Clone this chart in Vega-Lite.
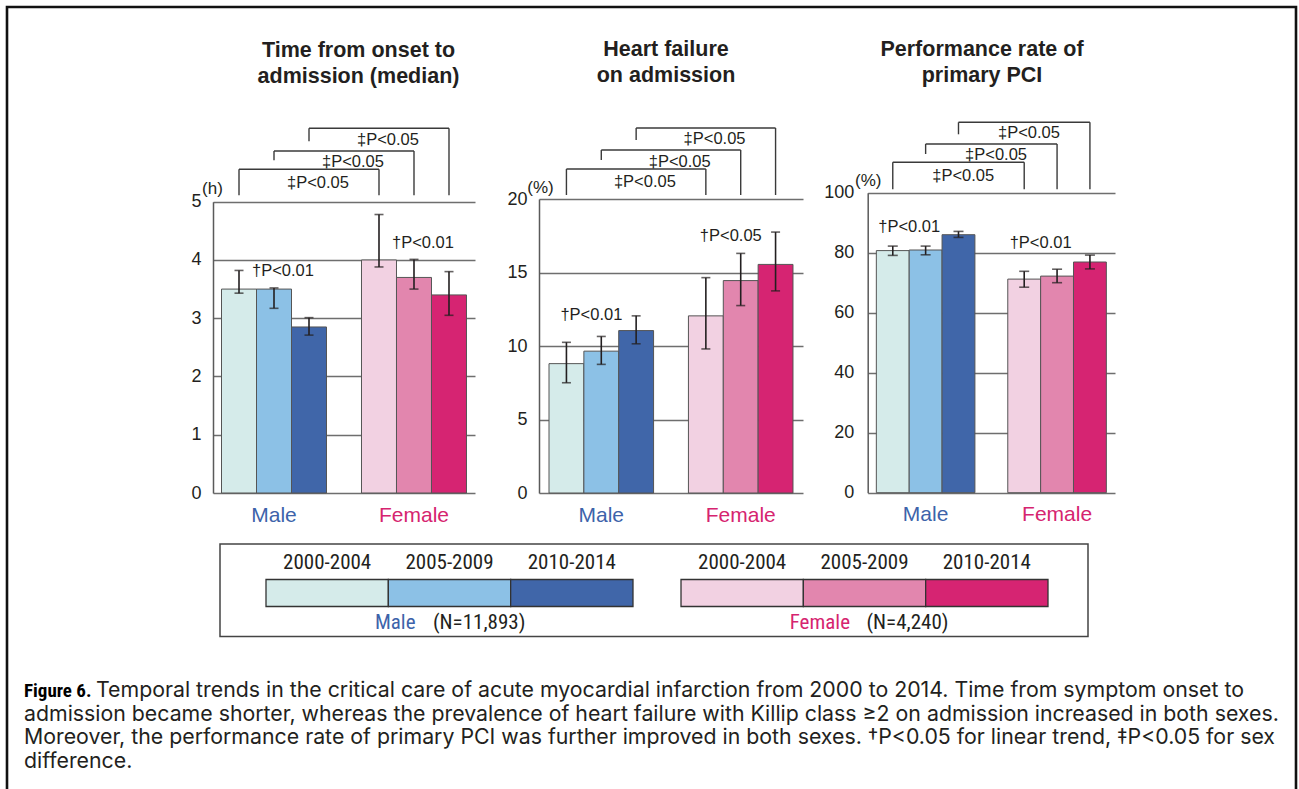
{
"$schema": "https://vega.github.io/schema/vega-lite/v6.json",
"width": 1289, "height": 782,
"autosize": {"type": "none"},
"padding": {"left": 7, "top": 7, "right": 3, "bottom": 0},
"background": "#ffffff",
"config": {
  "view": {"stroke": null},
  "font": "Liberation Sans",
  "text": {"font": "Liberation Sans", "color": "#231f20"},
  "axis": {"labelFont": "Liberation Sans", "titleFont": "Liberation Sans"}
},
"datasets": {
  "bars": [
    {"metric": "onset", "sex": "Male", "period": "2000-2004", "value": 3.5, "lo": 3.43, "hi": 3.82},
    {"metric": "onset", "sex": "Male", "period": "2005-2009", "value": 3.5, "lo": 3.17, "hi": 3.52},
    {"metric": "onset", "sex": "Male", "period": "2010-2014", "value": 2.85, "lo": 2.71, "hi": 3.01},
    {"metric": "onset", "sex": "Female", "period": "2000-2004", "value": 4.0, "lo": 3.88, "hi": 4.78},
    {"metric": "onset", "sex": "Female", "period": "2005-2009", "value": 3.7, "lo": 3.5, "hi": 4.01},
    {"metric": "onset", "sex": "Female", "period": "2010-2014", "value": 3.4, "lo": 3.05, "hi": 3.8},
    {"metric": "hf", "sex": "Male", "period": "2000-2004", "value": 8.8, "lo": 7.5, "hi": 10.25},
    {"metric": "hf", "sex": "Male", "period": "2005-2009", "value": 9.65, "lo": 8.75, "hi": 10.65},
    {"metric": "hf", "sex": "Male", "period": "2010-2014", "value": 11.05, "lo": 10.15, "hi": 12.05},
    {"metric": "hf", "sex": "Female", "period": "2000-2004", "value": 12.05, "lo": 9.8, "hi": 14.65},
    {"metric": "hf", "sex": "Female", "period": "2005-2009", "value": 14.45, "lo": 12.75, "hi": 16.3},
    {"metric": "hf", "sex": "Female", "period": "2010-2014", "value": 15.55, "lo": 13.75, "hi": 17.75},
    {"metric": "pci", "sex": "Male", "period": "2000-2004", "value": 80.7, "lo": 79.1, "hi": 82.2},
    {"metric": "pci", "sex": "Male", "period": "2005-2009", "value": 80.9, "lo": 79.3, "hi": 82.2},
    {"metric": "pci", "sex": "Male", "period": "2010-2014", "value": 86.0, "lo": 85.1, "hi": 87.1},
    {"metric": "pci", "sex": "Female", "period": "2000-2004", "value": 71.2, "lo": 68.5, "hi": 73.8},
    {"metric": "pci", "sex": "Female", "period": "2005-2009", "value": 72.2, "lo": 70.0, "hi": 74.5},
    {"metric": "pci", "sex": "Female", "period": "2010-2014", "value": 76.9, "lo": 74.6, "hi": 79.2}
  ],
  "trend": [
    {"metric": "onset", "at": "Male 2010-2014", "level": 3.81, "label": "†P<0.01"},
    {"metric": "onset", "at": "Female 2010-2014", "level": 4.29, "label": "†P<0.01"},
    {"metric": "hf", "at": "Male 2005-2009", "level": 12.11, "label": "†P<0.01"},
    {"metric": "hf", "at": "Female 2005-2009", "level": 17.5, "label": "†P<0.05"},
    {"metric": "pci", "at": "Male 2005-2009", "level": 88.5, "label": "†P<0.01"},
    {"metric": "pci", "at": "Female 2005-2009", "level": 83.2, "label": "†P<0.01"}
  ],
  "brackets": [
    {"metric": "onset", "from": "Male 2000-2004", "to": "Female 2000-2004", "level": 5.557, "legFrom": 5.111, "legTo": 5.111, "labelY": 5.317, "label": "‡P<0.05"},
    {"metric": "onset", "from": "Male 2005-2009", "to": "Female 2005-2009", "level": 5.871, "legFrom": 5.712, "legTo": 5.111, "labelY": 5.677, "label": "‡P<0.05"},
    {"metric": "onset", "from": "Male 2010-2014", "to": "Female 2010-2014", "level": 6.261, "legFrom": 6.038, "legTo": 5.111, "labelY": 6.055, "label": "‡P<0.05"},
    {"metric": "hf", "from": "Male 2000-2004", "to": "Female 2000-2004", "level": 22.04, "legFrom": 20.27, "legTo": 20.27, "labelY": 21.16, "label": "‡P<0.05"},
    {"metric": "hf", "from": "Male 2005-2009", "to": "Female 2005-2009", "level": 23.33, "legFrom": 22.65, "legTo": 20.27, "labelY": 22.52, "label": "‡P<0.05"},
    {"metric": "hf", "from": "Male 2010-2014", "to": "Female 2010-2014", "level": 24.83, "legFrom": 24.01, "legTo": 20.27, "labelY": 24.08, "label": "‡P<0.05"},
    {"metric": "pci", "from": "Male 2000-2004", "to": "Female 2000-2004", "level": 110.13, "legFrom": 101.13, "legTo": 101.13, "labelY": 105.67, "label": "‡P<0.05"},
    {"metric": "pci", "from": "Male 2005-2009", "to": "Female 2005-2009", "level": 116.23, "legFrom": 112.9, "legTo": 101.13, "labelY": 112.57, "label": "‡P<0.05"},
    {"metric": "pci", "from": "Male 2010-2014", "to": "Female 2010-2014", "level": 123.47, "legFrom": 119.47, "legTo": 101.13, "labelY": 119.9, "label": "‡P<0.05"}
  ],
  "groups": [
    {"sex": "Male", "n": "(N=11,893)"},
    {"sex": "Female", "n": "(N=4,240)"}
  ],
  "caption": [
    {"line": 1, "part": "head", "text": "Figure 6."},
    {"line": 1, "part": "first", "text": "Temporal trends in the critical care of acute myocardial infarction from 2000 to 2014. Time from symptom onset to"},
    {"line": 2, "part": "body", "text": "admission became shorter, whereas the prevalence of heart failure with Killip class ≥2 on admission increased in both sexes."},
    {"line": 3, "part": "body", "text": "Moreover, the performance rate of primary PCI was further improved in both sexes. †P<0.05 for linear trend, ‡P<0.05 for sex"},
    {"line": 4, "part": "body", "text": "difference."}
  ]
},
"layer": [
  {
    "data": {"values": [{"frame": "figure"}]},
    "mark": {"type": "rect", "fill": null, "fillOpacity": 0, "stroke": "#111111", "strokeWidth": 2.6},
    "encoding": {
      "x": {"field": "frame", "type": "nominal", "axis": null, "scale": {"domain": ["figure"], "range": [0, 1289], "paddingInner": 0, "paddingOuter": 0}},
      "y": {"field": "frame", "type": "nominal", "axis": null, "scale": {"domain": ["figure"], "range": [0, 820], "paddingInner": 0, "paddingOuter": 0}}
    }
  },
  {
    "data": {"name": "bars"},
    "transform": [{"filter": "datum.metric === 'onset'"}, {"calculate": "datum.sex + ' ' + datum.period", "as": "key"}],
    "layer": [
      {
        "mark": {"type": "bar", "stroke": "#555555", "strokeWidth": 1},
        "encoding": {
          "x": {"field": "key", "type": "nominal",
                "scale": {"domain": ["Male 2000-2004","Male 2005-2009","Male 2010-2014","gap","Female 2000-2004","Female 2005-2009","Female 2010-2014"], "range": [206, 468], "paddingInner": 0, "paddingOuter": 0.243},
                "axis": {"orient": "bottom", "offset": -296, "domain": false, "ticks": false, "grid": false, "labelAngle": 0,
                         "labelExpr": "datum.value === 'Male 2005-2009' ? 'Male' : (datum.value === 'Female 2005-2009' ? 'Female' : '')",
                         "labelFontSize": 21, "labelPadding": 11,
                         "labelColor": {"condition": {"test": "datum.value === 'Male 2005-2009'", "value": "#3d63aa"}, "value": "#d6246f"},
                         "labelOverlap": false, "labelBound": false, "labelFlush": false,
                         "title": ["Time from onset to", "admission (median)"], "titleFontSize": 21.5, "titleFontWeight": "bold", "titleColor": "#231f20",
                         "titleX": 351, "titleY": -437, "titleAlign": "center", "titleBaseline": "alphabetic", "titleLineHeight": 26}},
          "y": {"field": "value", "type": "quantitative",
                "scale": {"domain": [0, 5], "range": [486, 194.7], "nice": false},
                "axis": {"orient": "left", "offset": -206, "values": [0,1,2,3,4,5], "format": "d", "grid": true, "gridColor": "#6e6e6e", "gridWidth": 1.3,
                         "domainColor": "#5a5a5a", "domainWidth": 1.5, "ticks": false, "labelPadding": 12, "labelFontSize": 18, "labelColor": "#231f20",
                         "labelFlush": false, "labelOverlap": false,
                         "title": "(h)", "titleAngle": 0, "titleAlign": "center", "titleBaseline": "middle", "titleX": -1, "titleY": 181,
                         "titleFontSize": 17, "titleFontWeight": "normal", "titleColor": "#231f20"}},
          "color": {"field": "key", "type": "nominal", "legend": null,
                    "scale": {"domain": ["Male 2000-2004","Male 2005-2009","Male 2010-2014","Female 2000-2004","Female 2005-2009","Female 2010-2014"], "range": ["#d5ebea","#8cc1e6","#4066a9","#f2d1e2","#e286ae","#d62472"]}}
        }
      },
      {
        "mark": {"type": "rule", "color": "#231f20", "strokeWidth": 1.6},
        "encoding": {
          "x": {"field": "key", "type": "nominal", "scale": {"domain": ["Male 2000-2004","Male 2005-2009","Male 2010-2014","gap","Female 2000-2004","Female 2005-2009","Female 2010-2014"], "range": [206, 468], "paddingInner": 0, "paddingOuter": 0.243}},
          "y": {"field": "lo", "type": "quantitative", "scale": {"domain": [0, 5], "range": [486, 194.7], "nice": false}},
          "y2": {"field": "hi"}
        }
      },
      {
        "transform": [{"fold": ["lo", "hi"], "as": ["end", "v"]}],
        "mark": {"type": "tick", "color": "#231f20", "size": 9, "thickness": 1.6},
        "encoding": {
          "x": {"field": "key", "type": "nominal", "scale": {"domain": ["Male 2000-2004","Male 2005-2009","Male 2010-2014","gap","Female 2000-2004","Female 2005-2009","Female 2010-2014"], "range": [206, 468], "paddingInner": 0, "paddingOuter": 0.243}},
          "y": {"field": "v", "type": "quantitative", "scale": {"domain": [0, 5], "range": [486, 194.7], "nice": false}}
        }
      },
      {
        "data": {"name": "trend"},
        "transform": [{"filter": "datum.metric === 'onset'"}],
        "mark": {"type": "text", "fontSize": 16.5, "dx": -8.5, "align": "center", "baseline": "middle"},
        "encoding": {
          "x": {"field": "at", "type": "nominal", "bandPosition": 0, "scale": {"domain": ["Male 2000-2004","Male 2005-2009","Male 2010-2014","gap","Female 2000-2004","Female 2005-2009","Female 2010-2014"], "range": [206, 468], "paddingInner": 0, "paddingOuter": 0.243}},
          "y": {"field": "level", "type": "quantitative", "scale": {"domain": [0, 5], "range": [486, 194.7], "nice": false}},
          "text": {"field": "label"}
        }
      },
      {
        "data": {"name": "brackets"},
        "transform": [{"filter": "datum.metric === 'onset'"}],
        "layer": [
          {"mark": {"type": "rule", "color": "#3a3a3a", "strokeWidth": 1.4},
           "encoding": {
             "x": {"field": "from", "type": "nominal", "scale": {"domain": ["Male 2000-2004","Male 2005-2009","Male 2010-2014","gap","Female 2000-2004","Female 2005-2009","Female 2010-2014"], "range": [206, 468], "paddingInner": 0, "paddingOuter": 0.243}},
             "x2": {"field": "to"},
             "y": {"field": "level", "type": "quantitative", "scale": {"domain": [0, 5], "range": [486, 194.7], "nice": false}}}},
          {"mark": {"type": "rule", "color": "#3a3a3a", "strokeWidth": 1.4},
           "encoding": {
             "x": {"field": "from", "type": "nominal", "scale": {"domain": ["Male 2000-2004","Male 2005-2009","Male 2010-2014","gap","Female 2000-2004","Female 2005-2009","Female 2010-2014"], "range": [206, 468], "paddingInner": 0, "paddingOuter": 0.243}},
             "y": {"field": "level", "type": "quantitative", "scale": {"domain": [0, 5], "range": [486, 194.7], "nice": false}},
             "y2": {"field": "legFrom"}}},
          {"mark": {"type": "rule", "color": "#3a3a3a", "strokeWidth": 1.4},
           "encoding": {
             "x": {"field": "to", "type": "nominal", "scale": {"domain": ["Male 2000-2004","Male 2005-2009","Male 2010-2014","gap","Female 2000-2004","Female 2005-2009","Female 2010-2014"], "range": [206, 468], "paddingInner": 0, "paddingOuter": 0.243}},
             "y": {"field": "level", "type": "quantitative", "scale": {"domain": [0, 5], "range": [486, 194.7], "nice": false}},
             "y2": {"field": "legTo"}}},
          {"mark": {"type": "text", "fontSize": 16.5, "dx": -61, "align": "center", "baseline": "middle"},
           "encoding": {
             "x": {"field": "to", "type": "nominal", "scale": {"domain": ["Male 2000-2004","Male 2005-2009","Male 2010-2014","gap","Female 2000-2004","Female 2005-2009","Female 2010-2014"], "range": [206, 468], "paddingInner": 0, "paddingOuter": 0.243}},
             "y": {"field": "labelY", "type": "quantitative", "scale": {"domain": [0, 5], "range": [486, 194.7], "nice": false}},
             "text": {"field": "label"}}}
        ]
      }
    ]
  },
  {
    "data": {"name": "bars"},
    "transform": [{"filter": "datum.metric === 'hf'"}, {"calculate": "datum.sex + ' ' + datum.period", "as": "key"}],
    "layer": [
      {
        "mark": {"type": "bar", "stroke": "#555555", "strokeWidth": 1},
        "encoding": {
          "x": {"field": "key", "type": "nominal",
                "scale": {"domain": ["Male 2000-2004","Male 2005-2009","Male 2010-2014","gap","Female 2000-2004","Female 2005-2009","Female 2010-2014"], "range": [532, 796], "paddingInner": 0, "paddingOuter": 0.287},
                "axis": {"orient": "bottom", "offset": -296, "domain": false, "ticks": false, "grid": false, "labelAngle": 0,
                         "labelExpr": "datum.value === 'Male 2005-2009' ? 'Male' : (datum.value === 'Female 2005-2009' ? 'Female' : '')",
                         "labelFontSize": 21, "labelPadding": 11,
                         "labelColor": {"condition": {"test": "datum.value === 'Male 2005-2009'", "value": "#3d63aa"}, "value": "#d6246f"},
                         "labelOverlap": false, "labelBound": false, "labelFlush": false,
                         "title": ["Heart failure", "on admission"], "titleFontSize": 21.5, "titleFontWeight": "bold", "titleColor": "#231f20",
                         "titleX": 658.5, "titleY": -437.5, "titleAlign": "center", "titleBaseline": "alphabetic", "titleLineHeight": 26}},
          "y": {"field": "value", "type": "quantitative",
                "scale": {"domain": [0, 20], "range": [486, 192], "nice": false},
                "axis": {"orient": "left", "offset": -532, "values": [0,5,10,15,20], "format": "d", "grid": true, "gridColor": "#6e6e6e", "gridWidth": 1.3,
                         "domainColor": "#5a5a5a", "domainWidth": 1.5, "ticks": false, "labelPadding": 12, "labelFontSize": 18, "labelColor": "#231f20",
                         "labelFlush": false, "labelOverlap": false,
                         "title": "(%)", "titleAngle": 0, "titleAlign": "center", "titleBaseline": "middle", "titleX": 1, "titleY": 180,
                         "titleFontSize": 17, "titleFontWeight": "normal", "titleColor": "#231f20"}},
          "color": {"field": "key", "type": "nominal", "legend": null,
                    "scale": {"domain": ["Male 2000-2004","Male 2005-2009","Male 2010-2014","Female 2000-2004","Female 2005-2009","Female 2010-2014"], "range": ["#d5ebea","#8cc1e6","#4066a9","#f2d1e2","#e286ae","#d62472"]}}
        }
      },
      {
        "mark": {"type": "rule", "color": "#231f20", "strokeWidth": 1.6},
        "encoding": {
          "x": {"field": "key", "type": "nominal", "scale": {"domain": ["Male 2000-2004","Male 2005-2009","Male 2010-2014","gap","Female 2000-2004","Female 2005-2009","Female 2010-2014"], "range": [532, 796], "paddingInner": 0, "paddingOuter": 0.287}},
          "y": {"field": "lo", "type": "quantitative", "scale": {"domain": [0, 20], "range": [486, 192], "nice": false}},
          "y2": {"field": "hi"}
        }
      },
      {
        "transform": [{"fold": ["lo", "hi"], "as": ["end", "v"]}],
        "mark": {"type": "tick", "color": "#231f20", "size": 9, "thickness": 1.6},
        "encoding": {
          "x": {"field": "key", "type": "nominal", "scale": {"domain": ["Male 2000-2004","Male 2005-2009","Male 2010-2014","gap","Female 2000-2004","Female 2005-2009","Female 2010-2014"], "range": [532, 796], "paddingInner": 0, "paddingOuter": 0.287}},
          "y": {"field": "v", "type": "quantitative", "scale": {"domain": [0, 20], "range": [486, 192], "nice": false}}
        }
      },
      {
        "data": {"name": "trend"},
        "transform": [{"filter": "datum.metric === 'hf'"}],
        "mark": {"type": "text", "fontSize": 16.5, "dx": 7.5, "align": "center", "baseline": "middle"},
        "encoding": {
          "x": {"field": "at", "type": "nominal", "bandPosition": 0, "scale": {"domain": ["Male 2000-2004","Male 2005-2009","Male 2010-2014","gap","Female 2000-2004","Female 2005-2009","Female 2010-2014"], "range": [532, 796], "paddingInner": 0, "paddingOuter": 0.287}},
          "y": {"field": "level", "type": "quantitative", "scale": {"domain": [0, 20], "range": [486, 192], "nice": false}},
          "text": {"field": "label"}
        }
      },
      {
        "data": {"name": "brackets"},
        "transform": [{"filter": "datum.metric === 'hf'"}],
        "layer": [
          {"mark": {"type": "rule", "color": "#3a3a3a", "strokeWidth": 1.4},
           "encoding": {
             "x": {"field": "from", "type": "nominal", "scale": {"domain": ["Male 2000-2004","Male 2005-2009","Male 2010-2014","gap","Female 2000-2004","Female 2005-2009","Female 2010-2014"], "range": [532, 796], "paddingInner": 0, "paddingOuter": 0.287}},
             "x2": {"field": "to"},
             "y": {"field": "level", "type": "quantitative", "scale": {"domain": [0, 20], "range": [486, 192], "nice": false}}}},
          {"mark": {"type": "rule", "color": "#3a3a3a", "strokeWidth": 1.4},
           "encoding": {
             "x": {"field": "from", "type": "nominal", "scale": {"domain": ["Male 2000-2004","Male 2005-2009","Male 2010-2014","gap","Female 2000-2004","Female 2005-2009","Female 2010-2014"], "range": [532, 796], "paddingInner": 0, "paddingOuter": 0.287}},
             "y": {"field": "level", "type": "quantitative", "scale": {"domain": [0, 20], "range": [486, 192], "nice": false}},
             "y2": {"field": "legFrom"}}},
          {"mark": {"type": "rule", "color": "#3a3a3a", "strokeWidth": 1.4},
           "encoding": {
             "x": {"field": "to", "type": "nominal", "scale": {"domain": ["Male 2000-2004","Male 2005-2009","Male 2010-2014","gap","Female 2000-2004","Female 2005-2009","Female 2010-2014"], "range": [532, 796], "paddingInner": 0, "paddingOuter": 0.287}},
             "y": {"field": "level", "type": "quantitative", "scale": {"domain": [0, 20], "range": [486, 192], "nice": false}},
             "y2": {"field": "legTo"}}},
          {"mark": {"type": "text", "fontSize": 16.5, "dx": -61, "align": "center", "baseline": "middle"},
           "encoding": {
             "x": {"field": "to", "type": "nominal", "scale": {"domain": ["Male 2000-2004","Male 2005-2009","Male 2010-2014","gap","Female 2000-2004","Female 2005-2009","Female 2010-2014"], "range": [532, 796], "paddingInner": 0, "paddingOuter": 0.287}},
             "y": {"field": "labelY", "type": "quantitative", "scale": {"domain": [0, 20], "range": [486, 192], "nice": false}},
             "text": {"field": "label"}}}
        ]
      }
    ]
  },
  {
    "data": {"name": "bars"},
    "transform": [{"filter": "datum.metric === 'pci'"}, {"calculate": "datum.sex + ' ' + datum.period", "as": "key"}],
    "layer": [
      {
        "mark": {"type": "bar", "stroke": "#555555", "strokeWidth": 1},
        "encoding": {
          "x": {"field": "key", "type": "nominal",
                "scale": {"domain": ["Male 2000-2004","Male 2005-2009","Male 2010-2014","gap","Female 2000-2004","Female 2005-2009","Female 2010-2014"], "range": [860.7, 1108], "paddingInner": 0, "paddingOuter": 0.263},
                "axis": {"orient": "bottom", "offset": -296.3, "domain": false, "ticks": false, "grid": false, "labelAngle": 0,
                         "labelExpr": "datum.value === 'Male 2005-2009' ? 'Male' : (datum.value === 'Female 2005-2009' ? 'Female' : '')",
                         "labelFontSize": 21, "labelPadding": 11,
                         "labelColor": {"condition": {"test": "datum.value === 'Male 2005-2009'", "value": "#3d63aa"}, "value": "#d6246f"},
                         "labelOverlap": false, "labelBound": false, "labelFlush": false,
                         "title": ["Performance rate of", "primary PCI"], "titleFontSize": 21.5, "titleFontWeight": "bold", "titleColor": "#231f20",
                         "titleX": 974.5, "titleY": -437.2, "titleAlign": "center", "titleBaseline": "alphabetic", "titleLineHeight": 26}},
          "y": {"field": "value", "type": "quantitative",
                "scale": {"domain": [0, 100], "range": [485.7, 185.7], "nice": false},
                "axis": {"orient": "left", "offset": -860.7, "values": [0,20,40,60,80,100], "format": "d", "grid": true, "gridColor": "#6e6e6e", "gridWidth": 1.3,
                         "domainColor": "#5a5a5a", "domainWidth": 1.5, "ticks": false, "labelPadding": 14, "labelFontSize": 18, "labelColor": "#231f20",
                         "labelFlush": false, "labelOverlap": false,
                         "title": "(%)", "titleAngle": 0, "titleAlign": "center", "titleBaseline": "middle", "titleX": 0, "titleY": 173,
                         "titleFontSize": 17, "titleFontWeight": "normal", "titleColor": "#231f20"}},
          "color": {"field": "key", "type": "nominal", "legend": null,
                    "scale": {"domain": ["Male 2000-2004","Male 2005-2009","Male 2010-2014","Female 2000-2004","Female 2005-2009","Female 2010-2014"], "range": ["#d5ebea","#8cc1e6","#4066a9","#f2d1e2","#e286ae","#d62472"]}}
        }
      },
      {
        "mark": {"type": "rule", "color": "#231f20", "strokeWidth": 1.6},
        "encoding": {
          "x": {"field": "key", "type": "nominal", "scale": {"domain": ["Male 2000-2004","Male 2005-2009","Male 2010-2014","gap","Female 2000-2004","Female 2005-2009","Female 2010-2014"], "range": [860.7, 1108], "paddingInner": 0, "paddingOuter": 0.263}},
          "y": {"field": "lo", "type": "quantitative", "scale": {"domain": [0, 100], "range": [485.7, 185.7], "nice": false}},
          "y2": {"field": "hi"}
        }
      },
      {
        "transform": [{"fold": ["lo", "hi"], "as": ["end", "v"]}],
        "mark": {"type": "tick", "color": "#231f20", "size": 10, "thickness": 1.6},
        "encoding": {
          "x": {"field": "key", "type": "nominal", "scale": {"domain": ["Male 2000-2004","Male 2005-2009","Male 2010-2014","gap","Female 2000-2004","Female 2005-2009","Female 2010-2014"], "range": [860.7, 1108], "paddingInner": 0, "paddingOuter": 0.263}},
          "y": {"field": "v", "type": "quantitative", "scale": {"domain": [0, 100], "range": [485.7, 185.7], "nice": false}}
        }
      },
      {
        "data": {"name": "trend"},
        "transform": [{"filter": "datum.metric === 'pci'"}],
        "mark": {"type": "text", "fontSize": 16.5, "dx": 0, "align": "center", "baseline": "middle"},
        "encoding": {
          "x": {"field": "at", "type": "nominal", "bandPosition": 0, "scale": {"domain": ["Male 2000-2004","Male 2005-2009","Male 2010-2014","gap","Female 2000-2004","Female 2005-2009","Female 2010-2014"], "range": [860.7, 1108], "paddingInner": 0, "paddingOuter": 0.263}},
          "y": {"field": "level", "type": "quantitative", "scale": {"domain": [0, 100], "range": [485.7, 185.7], "nice": false}},
          "text": {"field": "label"}
        }
      },
      {
        "data": {"name": "brackets"},
        "transform": [{"filter": "datum.metric === 'pci'"}],
        "layer": [
          {"mark": {"type": "rule", "color": "#3a3a3a", "strokeWidth": 1.4},
           "encoding": {
             "x": {"field": "from", "type": "nominal", "scale": {"domain": ["Male 2000-2004","Male 2005-2009","Male 2010-2014","gap","Female 2000-2004","Female 2005-2009","Female 2010-2014"], "range": [860.7, 1108], "paddingInner": 0, "paddingOuter": 0.263}},
             "x2": {"field": "to"},
             "y": {"field": "level", "type": "quantitative", "scale": {"domain": [0, 100], "range": [485.7, 185.7], "nice": false}}}},
          {"mark": {"type": "rule", "color": "#3a3a3a", "strokeWidth": 1.4},
           "encoding": {
             "x": {"field": "from", "type": "nominal", "scale": {"domain": ["Male 2000-2004","Male 2005-2009","Male 2010-2014","gap","Female 2000-2004","Female 2005-2009","Female 2010-2014"], "range": [860.7, 1108], "paddingInner": 0, "paddingOuter": 0.263}},
             "y": {"field": "level", "type": "quantitative", "scale": {"domain": [0, 100], "range": [485.7, 185.7], "nice": false}},
             "y2": {"field": "legFrom"}}},
          {"mark": {"type": "rule", "color": "#3a3a3a", "strokeWidth": 1.4},
           "encoding": {
             "x": {"field": "to", "type": "nominal", "scale": {"domain": ["Male 2000-2004","Male 2005-2009","Male 2010-2014","gap","Female 2000-2004","Female 2005-2009","Female 2010-2014"], "range": [860.7, 1108], "paddingInner": 0, "paddingOuter": 0.263}},
             "y": {"field": "level", "type": "quantitative", "scale": {"domain": [0, 100], "range": [485.7, 185.7], "nice": false}},
             "y2": {"field": "legTo"}}},
          {"mark": {"type": "text", "fontSize": 16.5, "dx": -61, "align": "center", "baseline": "middle"},
           "encoding": {
             "x": {"field": "to", "type": "nominal", "scale": {"domain": ["Male 2000-2004","Male 2005-2009","Male 2010-2014","gap","Female 2000-2004","Female 2005-2009","Female 2010-2014"], "range": [860.7, 1108], "paddingInner": 0, "paddingOuter": 0.263}},
             "y": {"field": "labelY", "type": "quantitative", "scale": {"domain": [0, 100], "range": [485.7, 185.7], "nice": false}},
             "text": {"field": "label"}}}
        ]
      }
    ]
  },
  {
    "layer": [
      {
        "data": {"values": [{"box": "legend"}]},
        "mark": {"type": "rect", "fill": null, "fillOpacity": 0, "stroke": "#444444", "strokeWidth": 1.5},
        "encoding": {
          "x": {"field": "box", "type": "nominal", "axis": null, "scale": {"domain": ["legend"], "range": [213, 1081], "paddingInner": 0, "paddingOuter": 0}},
          "y": {"field": "box", "type": "nominal", "axis": null, "scale": {"domain": ["legend"], "range": [537, 629.5], "paddingInner": 0, "paddingOuter": 0}}
        }
      },
      {
        "layer": [
          {
            "data": {"name": "bars"},
            "transform": [{"filter": "datum.metric === 'onset'"}, {"calculate": "datum.sex + ' ' + datum.period", "as": "key"}],
            "mark": {"type": "rect", "stroke": "#333333", "strokeWidth": 1.3},
            "encoding": {
              "x": {"field": "sex", "type": "nominal", "axis": null, "scale": {"domain": ["Male", "Female"], "range": [259, 1041], "paddingInner": 0.1157, "paddingOuter": 0}},
              "xOffset": {"field": "period", "type": "nominal", "scale": {"domain": ["2000-2004","2005-2009","2010-2014"], "paddingInner": 0, "paddingOuter": 0}},
              "y": {"datum": "swatch", "type": "nominal", "axis": null, "scale": {"domain": ["period", "swatch", "sex"], "range": [542.5, 629.5], "paddingInner": 0.1, "paddingOuter": 0}},
              "color": {"field": "key", "type": "nominal", "legend": null,
                        "scale": {"domain": ["Male 2000-2004","Male 2005-2009","Male 2010-2014","Female 2000-2004","Female 2005-2009","Female 2010-2014"], "range": ["#d5ebea","#8cc1e6","#4066a9","#f2d1e2","#e286ae","#d62472"]}}
            }
          },
          {
            "data": {"name": "bars"},
            "transform": [{"filter": "datum.metric === 'onset'"}],
            "mark": {"type": "text", "fontSize": 21, "font": "Roboto Condensed, Liberation Sans", "align": "center", "baseline": "middle"},
            "encoding": {
              "x": {"field": "sex", "type": "nominal", "axis": null, "scale": {"domain": ["Male", "Female"], "range": [259, 1041], "paddingInner": 0.1157, "paddingOuter": 0}},
              "xOffset": {"field": "period", "type": "nominal", "scale": {"domain": ["2000-2004","2005-2009","2010-2014"], "paddingInner": 0, "paddingOuter": 0}},
              "y": {"datum": "period", "type": "nominal", "axis": null, "scale": {"domain": ["period", "swatch", "sex"], "range": [542.5, 629.5], "paddingInner": 0.1, "paddingOuter": 0}},
              "text": {"field": "period"}
            }
          },
          {
            "data": {"name": "groups"},
            "transform": [{"filter": "datum.sex === 'Male'"}],
            "layer": [
              {"mark": {"type": "text", "fontSize": 21, "font": "Roboto Condensed, Liberation Sans", "align": "right", "baseline": "middle", "dx": -34, "color": "#3d63aa"},
               "encoding": {
                 "x": {"field": "sex", "type": "nominal", "axis": null, "scale": {"domain": ["Male", "Female"], "range": [259, 1041], "paddingInner": 0.1157, "paddingOuter": 0}},
                 "y": {"datum": "sex", "type": "nominal", "axis": null, "scale": {"domain": ["period", "swatch", "sex"], "range": [542.5, 629.5], "paddingInner": 0.1, "paddingOuter": 0}},
                 "text": {"field": "sex"}}},
              {"mark": {"type": "text", "fontSize": 21, "font": "Roboto Condensed, Liberation Sans", "align": "left", "baseline": "middle", "dx": -16.5},
               "encoding": {
                 "x": {"field": "sex", "type": "nominal", "axis": null, "scale": {"domain": ["Male", "Female"], "range": [259, 1041], "paddingInner": 0.1157, "paddingOuter": 0}},
                 "y": {"datum": "sex", "type": "nominal", "axis": null, "scale": {"domain": ["period", "swatch", "sex"], "range": [542.5, 629.5], "paddingInner": 0.1, "paddingOuter": 0}},
                 "text": {"field": "n"}}}
            ]
          },
          {
            "data": {"name": "groups"},
            "transform": [{"filter": "datum.sex === 'Female'"}],
            "layer": [
              {"mark": {"type": "text", "fontSize": 21, "font": "Roboto Condensed, Liberation Sans", "align": "right", "baseline": "middle", "dx": -14.5, "color": "#d6246f"},
               "encoding": {
                 "x": {"field": "sex", "type": "nominal", "axis": null, "scale": {"domain": ["Male", "Female"], "range": [259, 1041], "paddingInner": 0.1157, "paddingOuter": 0}},
                 "y": {"datum": "sex", "type": "nominal", "axis": null, "scale": {"domain": ["period", "swatch", "sex"], "range": [542.5, 629.5], "paddingInner": 0.1, "paddingOuter": 0}},
                 "text": {"field": "sex"}}},
              {"mark": {"type": "text", "fontSize": 21, "font": "Roboto Condensed, Liberation Sans", "align": "left", "baseline": "middle", "dx": 2},
               "encoding": {
                 "x": {"field": "sex", "type": "nominal", "axis": null, "scale": {"domain": ["Male", "Female"], "range": [259, 1041], "paddingInner": 0.1157, "paddingOuter": 0}},
                 "y": {"datum": "sex", "type": "nominal", "axis": null, "scale": {"domain": ["period", "swatch", "sex"], "range": [542.5, 629.5], "paddingInner": 0.1, "paddingOuter": 0}},
                 "text": {"field": "n"}}}
            ]
          }
        ]
      }
    ],
    "resolve": {"scale": {"x": "independent", "y": "independent"}}
  },
  {
    "data": {"name": "caption"},
    "layer": [
      {
        "transform": [{"filter": "datum.part === 'head'"}],
        "mark": {"type": "text", "align": "left", "baseline": "middle", "font": "Roboto Condensed, Liberation Sans", "fontWeight": "bold", "fontSize": 19, "color": "#000000"},
        "encoding": {
          "x": {"datum": 0, "type": "quantitative", "axis": null, "scale": {"domain": [0, 1], "range": [17, 1289]}},
          "y": {"field": "line", "type": "ordinal", "axis": null, "scale": {"type": "point", "domain": [1, 2, 3, 4], "range": [684, 755], "padding": 0}},
          "text": {"field": "text"}
        }
      },
      {
        "transform": [{"filter": "datum.part === 'first'"}],
        "mark": {"type": "text", "align": "left", "baseline": "middle", "font": "Inter, Liberation Sans", "fontSize": 21.3, "dx": 72, "color": "#231f20"},
        "encoding": {
          "x": {"datum": 0, "type": "quantitative", "axis": null, "scale": {"domain": [0, 1], "range": [17, 1289]}},
          "y": {"field": "line", "type": "ordinal", "axis": null, "scale": {"type": "point", "domain": [1, 2, 3, 4], "range": [684, 755], "padding": 0}},
          "text": {"field": "text"}
        }
      },
      {
        "transform": [{"filter": "datum.part === 'body'"}],
        "mark": {"type": "text", "align": "left", "baseline": "middle", "font": "Inter, Liberation Sans", "fontSize": 21.3, "color": "#231f20"},
        "encoding": {
          "x": {"datum": 0, "type": "quantitative", "axis": null, "scale": {"domain": [0, 1], "range": [17, 1289]}},
          "y": {"field": "line", "type": "ordinal", "axis": null, "scale": {"type": "point", "domain": [1, 2, 3, 4], "range": [684, 755], "padding": 0}},
          "text": {"field": "text"}
        }
      }
    ]
  }
],
"resolve": {"scale": {"x": "independent", "y": "independent"}, "axis": {"x": "independent", "y": "independent"}}
}
